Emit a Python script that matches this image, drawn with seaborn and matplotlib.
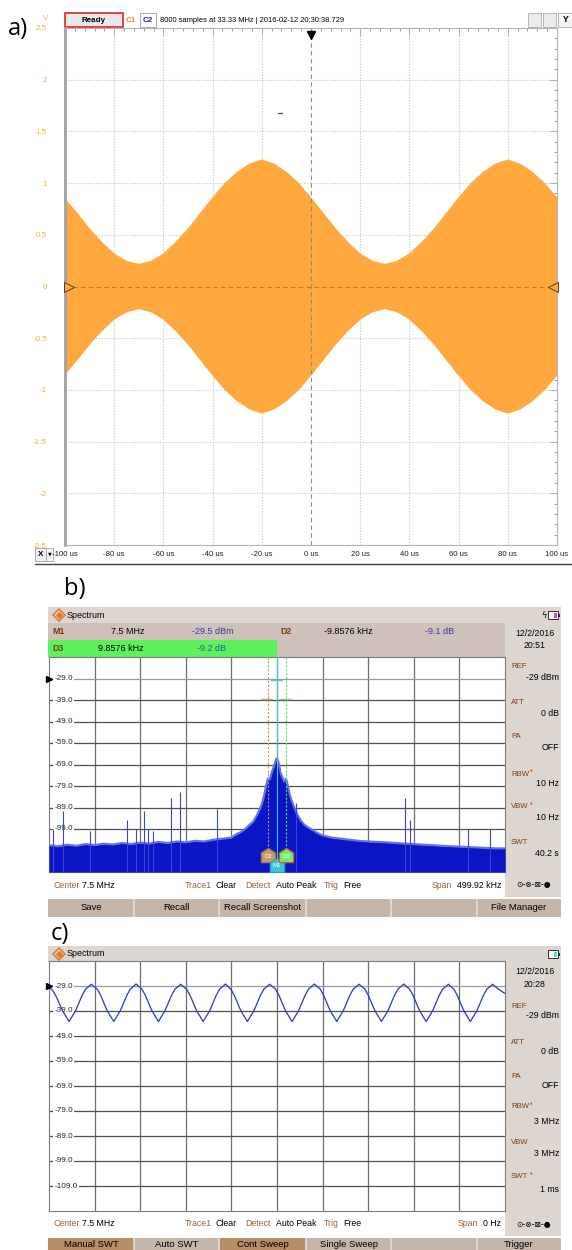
import matplotlib
matplotlib.use("Agg")
import matplotlib.pyplot as plt
import matplotlib.transforms as mtransforms
from matplotlib.patches import Rectangle
from matplotlib.path import Path
from matplotlib.ticker import MultipleLocator
import pandas as pd
import seaborn as sns

# ======================= DATA =======================
# (a) oscilloscope: envelope of the AM burst (V) versus time (us)
a_time_us = [-100, -95, -90, -85, -80, -75, -70, -65, -60, -55, -50, -45, -40, -35, -30, -25, -20, -15, -10, -5,
             0, 5, 10, 15, 20, 25, 30, 35, 40, 45, 50, 55, 60, 65, 70, 75, 80, 85, 90, 95, 100]
a_envelope_v = [0.84, 0.70, 0.55, 0.42, 0.31, 0.24, 0.21, 0.24, 0.31, 0.42, 0.55, 0.70, 0.85, 0.99, 1.10, 1.18, 1.22, 1.18, 1.10, 0.99,
                0.85, 0.70, 0.55, 0.42, 0.31, 0.24, 0.21, 0.24, 0.31, 0.42, 0.55, 0.70, 0.85, 0.99, 1.10, 1.18, 1.22, 1.18, 1.10, 0.99, 0.85]
a_xticks = [-100, -80, -60, -40, -20, 0, 20, 40, 60, 80, 100]
a_xtick_labels = ["-100 us", "-80 us", "-60 us", "-40 us", "-20 us", "0 us", "20 us", "40 us", "60 us", "80 us", "100 us"]
a_yticks = [2.5, 2, 1.5, 1, 0.5, 0, -0.5, -1, -1.5, -2, -2.5]
a_ytick_labels = ["2.5", "2", "1.5", "1", "0.5", "0", "-0.5", "-1", "-1.5", "-2", "-2.5"]

# (b) spectrum: trace level (dBm) versus offset from 7.5 MHz (kHz)
b_freq_khz = [-250, -240, -230, -220, -210, -200, -190, -180, -170, -160, -150, -140, -130, -120, -110, -100, -90, -80, -70, -60, -50,
              -45, -40, -35, -30,
              -26, -22, -19, -16, -14, -12, -10, -8, -6, -4, -2, -1,
              0,
              1, 2, 4, 6, 8, 10, 12, 14, 16, 19, 22, 26, 30, 35, 40, 45, 50,
              60, 70, 80, 90, 100, 110, 120, 130, 140, 150, 160, 170, 180, 190, 200, 210, 220, 230, 240, 250]
b_level_dbm = [-106.5, -107.0, -106.3, -106.8, -106.0, -106.5, -105.8, -106.2, -105.5, -106.0, -105.3, -105.8, -105.0, -105.5, -104.8, -105.2, -104.5, -104.8, -104.0, -103.5, -103.0,
               -101.5, -100.5, -99.0, -97.0,
               -95.5, -92.5, -90.0, -86.5, -83.0, -79.0, -75.5, -76.0, -73.0, -70.5, -68.0, -66.5,
               -66.2,
               -67.0, -68.5, -73.0, -75.0, -77.0, -75.5, -79.0, -83.0, -85.7, -89.0, -92.0, -95.0, -97.0, -98.5, -99.7, -101.0, -102.0,
               -103.0, -103.5, -104.0, -104.5, -104.8, -105.0, -105.2, -105.5, -105.8, -106.0, -106.3, -106.5, -106.8, -107.0, -107.2, -107.4, -107.6, -107.8, -108.0, -108.0]
b_spike_khz = [-245.6, -234.7, -205.0, -164.8, -155.0, -146.0, -141.0, -136.5, -115.7, -105.9, -65.5, 20.7, 140.8, 146.0, 209.6, 233.6]
b_spike_dbm = [-99.0, -90.4, -99.7, -95.0, -99.0, -90.4, -98.8, -99.7, -84.8, -81.6, -89.5, -86.7, -84.8, -95.0, -99.0, -99.0]
b_marker_names = ["D2", "M1", "D3"]
b_marker_khz = [-9.8576, 0.0, 9.8576]

# grid levels shared by (b) and (c)
grid_levels_dbm = [-29, -39, -49, -59, -69, -79, -89, -99, -109]
b_level_labels = ["-29.0", "-39.0", "-49.0", "-59.0", "-69.0", "-79.0", "-89.0", "-99.0", ""]
c_level_labels = ["-29.0", "-39.0", "-49.0", "-59.0", "-69.0", "-79.0", "-89.0", "-99.0", "-109.0"]
b_grid_khz = [-200, -150, -100, -50, 0, 50, 100, 150, 200]
c_grid_us = [100, 200, 300, 400, 500, 600, 700, 800, 900]

# (c) zero span: level (dBm) versus time (us) over the 1 ms sweep
c_time_us = [0, 8, 16, 24, 30, 36, 40, 44, 48, 52, 58, 64, 72, 80, 93,
             106, 114, 122, 128, 134, 138, 142, 146, 150, 156, 162, 170, 178, 191,
             204, 212, 220, 226, 232, 236, 240, 244, 248, 254, 260, 268, 276, 289,
             302, 310, 318, 324, 330, 334, 338, 342, 346, 352, 358, 366, 374, 387,
             399, 407, 415, 421, 427, 431, 435, 439, 443, 449, 455, 463, 471, 484,
             497, 505, 513, 519, 525, 529, 533, 537, 541, 547, 553, 561, 569, 582,
             595, 603, 611, 617, 623, 627, 631, 635, 639, 645, 651, 659, 667, 680,
             693, 701, 709, 715, 721, 725, 729, 733, 737, 743, 749, 757, 765, 778,
             791, 799, 807, 813, 819, 823, 827, 831, 835, 841, 847, 855, 863, 876,
             888, 896, 904, 910, 916, 920, 924, 928, 932, 938, 944, 952, 960, 973,
             986, 1000]
c_level_dbm = [-29.4, -30.8, -33.3, -36.5, -39.0, -40.8, -42.0, -43.2, -42.0, -40.8, -39.0, -36.5, -33.0, -30.3, -28.3,
               -30.3, -33.0, -36.5, -39.0, -40.8, -42.0, -43.2, -42.0, -40.8, -39.0, -36.5, -33.0, -30.3, -28.2,
               -30.3, -33.0, -36.5, -39.0, -40.8, -42.0, -43.2, -42.0, -40.8, -39.0, -36.5, -33.0, -30.3, -28.3,
               -30.3, -33.0, -36.5, -39.0, -40.8, -42.0, -43.2, -42.0, -40.8, -39.0, -36.5, -33.0, -30.3, -28.2,
               -30.3, -33.0, -36.5, -39.0, -40.8, -42.0, -43.2, -42.0, -40.8, -39.0, -36.5, -33.0, -30.3, -28.3,
               -30.3, -33.0, -36.5, -39.0, -40.8, -42.0, -43.2, -42.0, -40.8, -39.0, -36.5, -33.0, -30.3, -28.2,
               -30.3, -33.0, -36.5, -39.0, -40.8, -42.0, -43.2, -42.0, -40.8, -39.0, -36.5, -33.0, -30.3, -28.3,
               -30.3, -33.0, -36.5, -39.0, -40.8, -42.0, -43.2, -42.0, -40.8, -39.0, -36.5, -33.0, -30.3, -28.2,
               -30.3, -33.0, -36.5, -39.0, -40.8, -42.0, -43.2, -42.0, -40.8, -39.0, -36.5, -33.0, -30.3, -28.3,
               -30.3, -33.0, -36.5, -39.0, -40.8, -42.0, -43.2, -42.0, -40.8, -39.0, -36.5, -33.0, -30.3, -28.3,
               -30.3, -32.0]

# ======================= STYLE / LAYOUT =======================
sns.set_theme(style="white")
plt.rcParams["font.family"] = ["Liberation Sans", "DejaVu Sans"]

W, H = 572, 1250
fig = plt.figure(figsize=(W / 100, H / 100), dpi=100, facecolor="white")

ORANGE = "#ffa83d"
BEIGE_LIGHT = "#ddd5cf"
BEIGE_ROW = "#cdc1b9"
BUTTON = "#c6b5a9"
BUTTON_DARK = "#b98d66"
BROWN = "#a0603a"
DBROWN = "#7a3c14"
BLUEVAL = "#3838a8"


def px(x0, y0, x1, y1):
    return [x0 / W, 1 - y1 / H, (x1 - x0) / W, (y1 - y0) / H]


bg = fig.add_axes([0, 0, 1, 1], zorder=-5)
bg.set_xlim(0, W)
bg.set_ylim(H, 0)
bg.axis("off")


def box(x0, y0, x1, y1, fc, ec="none", lw=0.0, z=1):
    bg.add_patch(Rectangle((x0, y0), x1 - x0, y1 - y0, fc=fc, ec=ec, lw=lw, zorder=z))


def txt(x, y, s, size=6.3, color="black", ha="left", va="center", weight="normal", family=None, z=5):
    kw = {}
    if family is not None:
        kw["family"] = family
    bg.text(x, y, s, fontsize=size, color=color, ha=ha, va=va, fontweight=weight, zorder=z, **kw)


# ======================= PANEL (a) =======================
txt(8, 29, "a)", size=17, family=["Open Sans", "DejaVu Sans"])
box(65, 13, 123, 27, "#e8e8e8", ec="#e02424", lw=1.2)
txt(94, 20, "Ready", size=5.8, weight="bold", ha="center")
txt(126, 20, "C1", size=5.8, weight="bold", color="#f08a1c")
box(140, 13, 156, 27, "white", ec="#a8a8c8", lw=0.7)
txt(148, 20, "C2", size=5.8, weight="bold", color="#2020d0", ha="center")
txt(160, 20, "8000 samples at 33.33 MHz | 2016-02-12 20:30:38.729", size=5.4)
for (x0, x1) in [(528, 541), (543, 556)]:
    box(x0, 13, x1, 27, "#ececec", ec="#b4b4b4", lw=0.7)
box(558, 13, 573, 27, "#f4f4f4", ec="#b4b4b4", lw=0.7)
txt(566, 20, "Y", size=6.2, weight="bold", ha="center")
txt(46, 18, "V", size=5.5, color=ORANGE, ha="center")

axA = fig.add_axes(px(65, 28, 557, 545))
axA.set_facecolor("white")
env_pos = a_envelope_v
env_neg = [-v for v in a_envelope_v]
axA.fill_between(a_time_us, env_neg, env_pos, color=ORANGE, lw=0, zorder=2)
sns.lineplot(x=a_time_us, y=env_pos, ax=axA, color=ORANGE, lw=1.2, zorder=2, estimator=None, sort=False)
sns.lineplot(x=a_time_us, y=env_neg, ax=axA, color=ORANGE, lw=1.2, zorder=2, estimator=None, sort=False)
for xv in a_xticks[1:-1]:
    if xv == 0:
        axA.axvline(xv, color="#8c8c8c", lw=0.8, ls=(0, (4, 3)), zorder=3)
    else:
        axA.axvline(xv, color="#c4c4c4", lw=0.8, ls=(0, (1, 1.5)), zorder=1)
for yv in a_yticks[1:-1]:
    if yv == 0:
        axA.axhline(yv, color="#c07a2c", lw=0.8, ls=(0, (4, 3)), zorder=3)
    else:
        axA.axhline(yv, color="#c4c4c4", lw=0.8, ls=(0, (1, 1.5)), zorder=1)
axA.set_xlim(-100, 100)
axA.set_ylim(-2.5, 2.5)
axA.set_xticks(a_xticks, a_xtick_labels)
axA.set_yticks(a_yticks, a_ytick_labels)
axA.xaxis.set_minor_locator(MultipleLocator(4))
axA.yaxis.set_minor_locator(MultipleLocator(0.1))
axA.tick_params(which="both", direction="in", top=True, right=True, color="#9c9c9c", width=0.7)
axA.tick_params(which="major", length=5)
axA.tick_params(which="minor", length=2.5)
axA.tick_params(axis="x", labelsize=5.6, pad=4, labelcolor="#202020")
axA.tick_params(axis="y", labelsize=5.8, pad=13, labelcolor=ORANGE)
for name, sp in axA.spines.items():
    sp.set_color("#b4b4b4")
    sp.set_linewidth(0.8)
axA.spines["left"].set_color("#a0a0a0")
axA.spines["left"].set_linewidth(2.0)
axA.plot([0], [2.43], marker="v", color="black", ms=6, clip_on=False, zorder=6)
axA.plot([-98.3], [0], marker=">", mfc=ORANGE, mec="#303030", mew=0.6, ms=7, clip_on=False, zorder=6)
axA.plot([98.3], [0], marker="<", mfc=ORANGE, mec="#303030", mew=0.6, ms=7, clip_on=False, zorder=6)
axA.plot([-13.6, -11.6], [1.68, 1.68], color="#404040", lw=0.9, zorder=6)

box(35, 548, 46, 561, "#f0f0f0", ec="#a0a0a0", lw=0.6)
txt(40.5, 554.5, "X", size=5.8, weight="bold", ha="center")
box(46, 548, 53, 561, "#f6f6f6", ec="#a0a0a0", lw=0.6)
txt(49.5, 554, "\u25BC", size=3.5, ha="center", family="DejaVu Sans")
bg.plot([35, 572], [563.5, 563.5], color="#404040", lw=1.0, zorder=2)


# ======================= SPECTRUM SCREENS (b) and (c) =======================
def screen_frame(y_head, y_plot0, y_plot1, y_info1, y_btn1, battery_color, bolt):
    box(48, y_head, 561, y_head + 16, BEIGE_LIGHT)
    bg.plot([59], [y_head + 8], marker="D", ms=6.5, mfc="none", mec="#e07828", mew=1.1, zorder=4)
    bg.plot([59], [y_head + 8], marker="D", ms=2.8, mfc="#e07828", mec="#e07828", zorder=4)
    txt(67, y_head + 8, "Spectrum", size=6.4)
    box(548, y_head + 4, 558, y_head + 12, "white", ec="#303030", lw=0.7, z=3)
    box(554, y_head + 5.5, 557, y_head + 10.5, battery_color, z=4)
    box(558, y_head + 6.5, 559.5, y_head + 9.5, "#303030", z=4)
    if bolt:
        txt(544, y_head + 8, "\u03DF", size=6, ha="center", family="DejaVu Sans")
    box(505, y_plot0 - (16 if bolt else 0), 561, y_info1, BEIGE_LIGHT)
    box(48, y_plot1, 505, y_info1, "white")
    box(48, y_info1 + 1.5, 561, y_btn1, BUTTON)


def info_row(y, span_value):
    items = [(53, "Center", BROWN), (82, "7.5 MHz", "black"),
             (185, "Trace1", BROWN), (216, "Clear", "black"),
             (245, "Detect", BROWN), (276, "Auto Peak", "black"),
             (324, "Trig", BROWN), (343, "Free", "black")]
    for x, s, c in items:
        txt(x, y, s, size=6.3, color=c)
    txt(501, y, span_value, size=6.3, ha="right")
    txt(478 if span_value == "0 Hz" else 452, y, "Span", size=6.3, color=BROWN, ha="right")
    txt(534, y, "\u2299-\u2297-\u22A0-\u25CF", size=5.6, ha="center", family="DejaVu Sans")


def button_row(y0, y1, labels, dark):
    edges = [48, 134, 219, 306, 391, 477, 561]
    for i, lab in enumerate(labels):
        if i in dark:
            box(edges[i], y0, edges[i + 1], y1, BUTTON_DARK, z=2)
        if i > 0:
            bg.plot([edges[i], edges[i]], [y0, y1], color="#e6ded8", lw=1.2, zorder=3)
        if lab:
            txt((edges[i] + edges[i + 1]) / 2, min((y0 + y1) / 2, y0 + 9), lab, size=6.8, ha="center")


def settings_panel(rows, date_y, time_s):
    txt(535, date_y, "12/2/2016", size=6.3, ha="center")
    txt(535, date_y + 12.5, time_s, size=6.3, ha="center")
    for lab, ly, val, vy, star in rows:
        txt(511, ly, lab, size=5.6, color=DBROWN)
        if star:
            txt(511 + 5.7 * len(lab) + 0.5, ly - 2.5, "\u2022", size=5.5, color="#e07020", family="DejaVu Sans")
        txt(559, vy, val, size=6.3, ha="right")


def spectrum_axes(y0, y1, xlim, xgrid, labels):
    ax = fig.add_axes(px(49, y0, 505, y1))
    ax.set_facecolor("white")
    ax.set_xlim(*xlim)
    ax.set_ylim(-119, -19)
    ax.set_xticks([])
    ax.set_yticks([])
    for sp in ax.spines.values():
        sp.set_color("#7a7a7a")
        sp.set_linewidth(0.8)
    for xv in xgrid:
        ax.axvline(xv, color="#6e6e6e", lw=0.9, zorder=1)
    for lv in grid_levels_dbm:
        ax.axhline(lv, color="#9a9a9a" if lv == -29 else "#505050", lw=0.9, zorder=1)
    trans = mtransforms.blended_transform_factory(ax.transAxes, ax.transData)
    for lv, lab in zip(grid_levels_dbm, labels):
        if lab:
            ax.text(0.012, lv, lab, transform=trans, fontsize=5.9, ha="left", va="center", zorder=2,
                    bbox=dict(fc="white", ec="none", pad=0.8))
    ax.plot([0.0], [-29], transform=trans, marker=">", color="black", ms=4.5, clip_on=False, zorder=9)
    return ax


# ---------- (b) ----------
txt(64, 589, "b)", size=17, family=["Open Sans", "DejaVu Sans"])
screen_frame(607, 623, 872, 897, 917, "#f040c8", True)
box(48, 623, 505, 640, BEIGE_ROW, z=2)
box(48, 640, 277, 657, "#5cf25c", z=2)
box(277, 640, 505, 657, BEIGE_ROW, z=2)
txt(52, 631, "M1", size=6.4, weight="bold", color=DBROWN)
txt(128, 631, "7.5 MHz", size=6.5, ha="center")
txt(213, 631, "-29.5 dBm", size=6.5, ha="center", color=BLUEVAL)
txt(280, 631, "D2", size=6.4, weight="bold", color=DBROWN)
txt(348, 631, "-9.8576 kHz", size=6.5, ha="center")
txt(440, 631, "-9.1 dB", size=6.5, ha="center", color=BLUEVAL)
txt(52, 648.5, "D3", size=6.4, weight="bold", color=DBROWN)
txt(121, 648.5, "9.8576 kHz", size=6.5, ha="center")
txt(212, 648.5, "-9.2 dB", size=6.5, ha="center", color="#2a58a0")
settings_panel([("REF", 667, "-29 dBm", 678, False), ("ATT", 702, "0 dB", 713, False),
                ("PA", 737, "OFF", 748, False), ("RBW", 774, "10 Hz", 784, True),
                ("VBW", 807, "10 Hz", 818, True), ("SWT", 842, "40.2 s", 853, False)], 633, "20:51")
info_row(885, "499.92 kHz")
button_row(898.5, 917, ["Save", "Recall", "Recall Screenshot", "", "", "File Manager"], [])

axB = spectrum_axes(657, 872, (-250, 250), b_grid_khz, b_level_labels)
df_b = pd.DataFrame({"freq_khz": b_freq_khz, "level_dbm": b_level_dbm})
axB.fill_between(df_b["freq_khz"], -119, df_b["level_dbm"], color="#0a16c6", lw=0, zorder=3)
sns.lineplot(data=df_b, x="freq_khz", y="level_dbm", ax=axB, color="#6272ea", lw=1.5, zorder=3,
             estimator=None, sort=False)
axB.vlines(b_spike_khz, -119, b_spike_dbm, color="#3444dc", lw=0.8, zorder=3)

mk_colors = {"D2": ("#c39a6b", "#a57345"), "M1": ("#3ec4d6", "#2aa0b6"), "D3": ("#6af06a", "#e0502a")}
mk_y = {"D2": -111.0, "M1": -115.6, "D3": -111.0}
line_style = {"D2": ("#c09060", (0, (2, 1.5))), "M1": ("#46c2d4", "-"), "D3": ("#58e058", (0, (2, 1.5)))}
house = Path([(-1, -1), (1, -1), (1, 0.35), (0, 1), (-1, 0.35), (-1, -1)],
             [Path.MOVETO, Path.LINETO, Path.LINETO, Path.LINETO, Path.LINETO, Path.CLOSEPOLY])
for name, fk in zip(b_marker_names, b_marker_khz):
    col, ls = line_style[name]
    axB.plot([fk, fk], [-19, mk_y[name] + 3], color=col, lw=0.8, ls=ls, zorder=5)
for name, fk in zip(b_marker_names, b_marker_khz):
    fc, ec = mk_colors[name]
    axB.scatter([fk], [mk_y[name]], marker=house, s=105, c=fc, edgecolors=ec, linewidths=0.9, zorder=6)
    axB.text(fk, mk_y[name] - 0.6, name, fontsize=4.4, color="white", ha="center", va="center", zorder=7)
axB.plot([-6.5, 5.5], [-29.5, -29.5], color="#5cc8d8", lw=1.0, zorder=5)
axB.plot([-17.5, -5.5], [-38.4, -38.4], color="#c8a070", lw=1.0, zorder=5)
axB.plot([2.0, 15.0], [-38.4, -38.4], color="#70e070", lw=1.0, zorder=5)

# ---------- (c) ----------
txt(51, 934, "c)", size=17, family=["Open Sans", "DejaVu Sans"])
screen_frame(946, 962, 1211, 1236, 1252, "#50d8e0", False)
settings_panel([("REF", 1007, "-29 dBm", 1016, False), ("ATT", 1042, "0 dB", 1052, False),
                ("PA", 1077, "OFF", 1086, False), ("RBW", 1107, "3 MHz", 1122, True),
                ("VBW", 1143, "3 MHz", 1154, False), ("SWT", 1177, "1 ms", 1190, True)], 972, "20:28")
info_row(1224, "0 Hz")
button_row(1237.5, 1252, ["Manual SWT", "Auto SWT", "Cont Sweep", "Single Sweep", "", "Trigger"], [0, 2])

axC = spectrum_axes(961, 1211, (0, 1000), c_grid_us, c_level_labels)
df_c = pd.DataFrame({"time_us": c_time_us, "level_dbm": c_level_dbm})
sns.lineplot(data=df_c, x="time_us", y="level_dbm", ax=axC, color="#2436dc", lw=0.9, zorder=4,
             estimator=None, sort=False)
axC.set_xlim(0, 1000)
axC.set_ylim(-119, -19)
for ax in (axB, axC):
    ax.set_xlabel("")
    ax.set_ylabel("")

fig.savefig("out.png", dpi=100, facecolor="white")
